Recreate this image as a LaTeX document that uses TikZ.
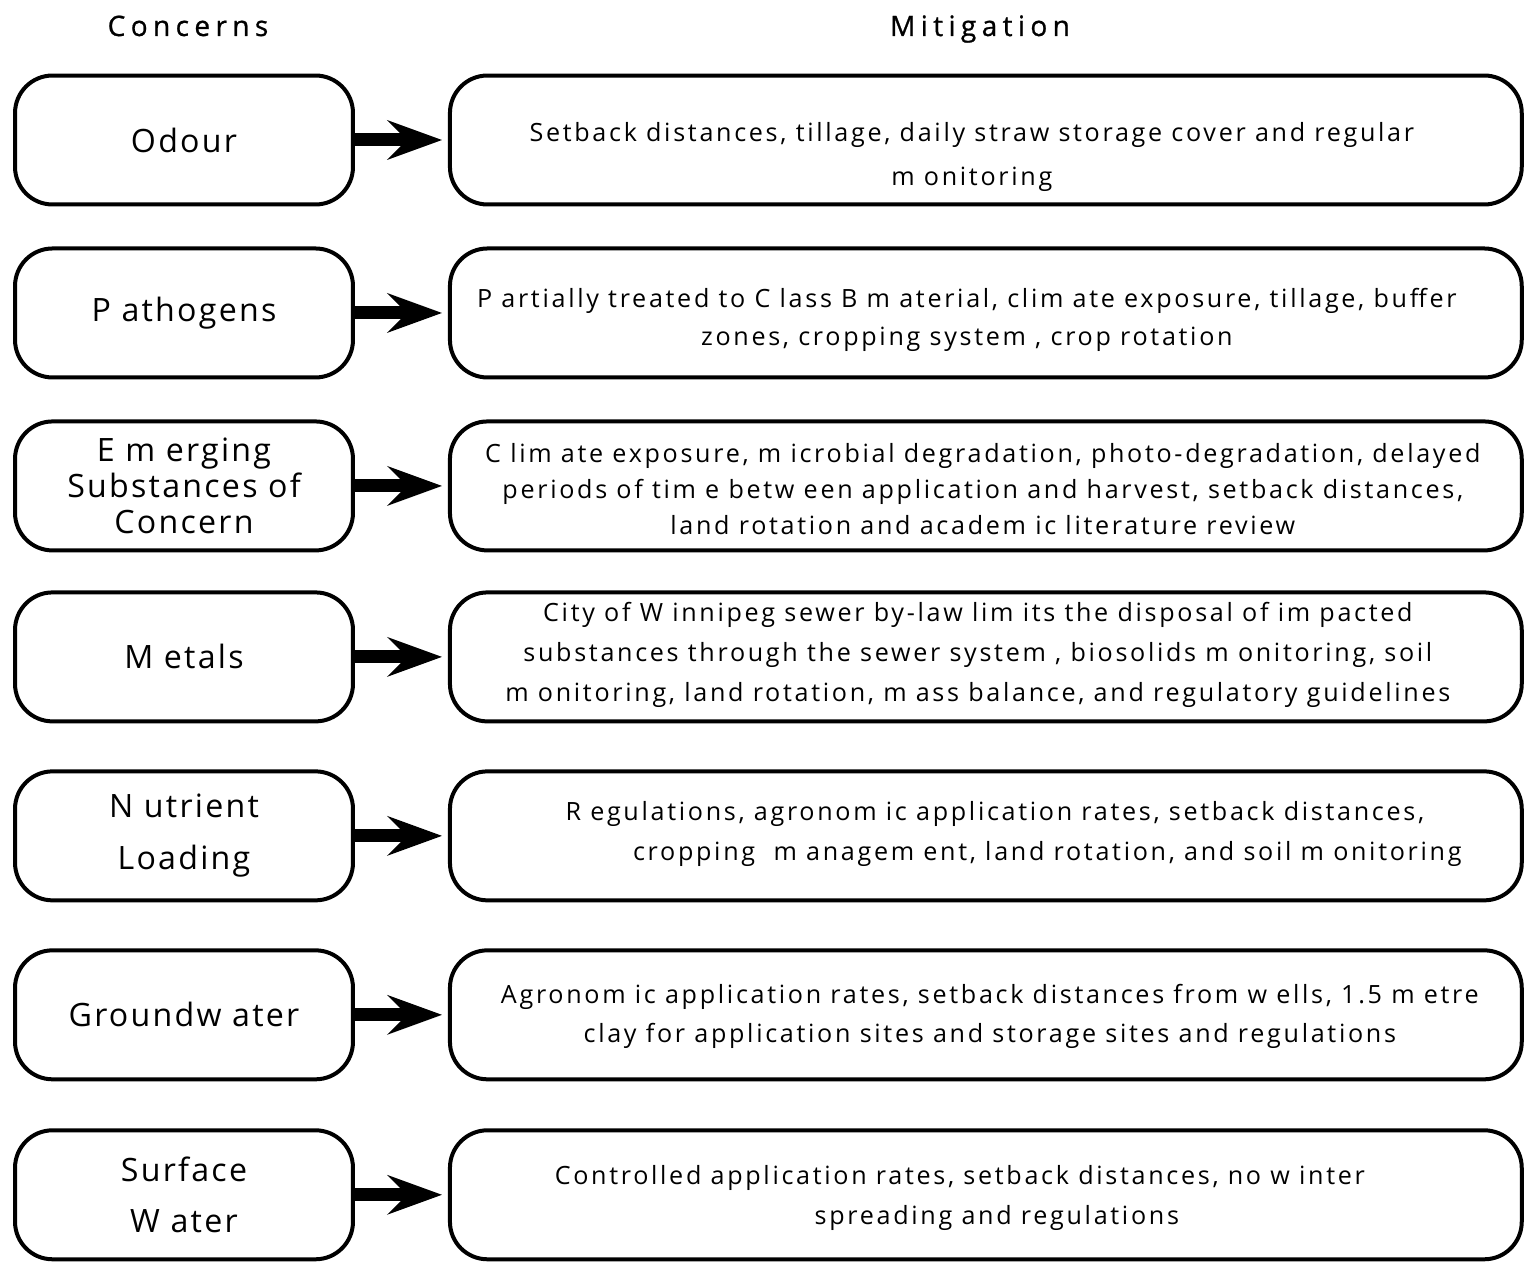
\documentclass[tikz,border=0pt]{standalone}
\usepackage{fontspec}
\setmainfont{Open Sans}[LetterSpace=10.7]
\newfontfamily\concernfont{Open Sans}[LetterSpace=7]
\newfontfamily\headingfont{Open Sans}[LetterSpace=19,FakeBold=0.8]
\usetikzlibrary{positioning}
\usetikzlibrary{arrows.meta}

\begin{document}
\begin{tikzpicture}[x=0.02cm,y=-0.02cm]
\tikzset{basic/.style={draw,line width=0.08cm,rounded corners=0.75cm,align=center,inner sep=0pt,minimum height=2.58cm}}
\tikzset{concern/.style={basic,minimum width=6.76cm,font=\concernfont\fontsize{18.3}{20.4}\selectfont}}
\tikzset{mitig/.style={basic,minimum width=21.44cm}}
\tikzset{mtext/.style={align=center,inner sep=0pt,font=\fontsize{14.3}{22}\selectfont}}
\tikzset{heading/.style={anchor=base,font=\headingfont\fontsize{16}{19}\selectfont}}
\tikzset{link/.style={line width=0.26cm,-{Stealth[length=1.1cm,width=0.8cm,inset=0.4cm,line width=0pt]},shorten >=0.12cm}}
\useasboundingbox (0,0) rectangle (1527,1263);
        \node[heading] (concerns) at (188,36) {Concerns};
        \node[heading] (mitigation) at (980,36) {Mitigation};
        % concerns column
        \node[concern] (odour) at (184,140) {\raisebox{-5pt}{Odour}};
        \node[concern,below=0.80cm of odour] (pathogens) {\raisebox{-4pt}{P athogens}};
        \node[concern,below=0.80cm of pathogens] (emerging) {E m erging\\Substances of\\Concern};
        \node[concern,below=0.76cm of emerging] (metals) {M etals};
        \node[concern,below=0.92cm of metals] (nutrient) {N utrient\\[9pt]Loading};
        \node[concern,below=0.92cm of nutrient] (ground) {Groundw ater};
        \node[concern,below=0.94cm of ground] (surface) {Surface\\[9pt]W ater};
        % mitigation column
        \foreach \c in {odour,pathogens,emerging,metals,nutrient,ground,surface}
            \node[mitig,right=1.86cm of \c] (\c m) {};
        \node[mtext] (odourt) at ([shift={(-14,17)}]odourm.center)
        {Setback distances, tillage, daily straw storage cover and regular\\[3.5pt]m onitoring};
        \node[mtext] (pathogenst) at ([shift={(-19,7)}]pathogensm.center)
        {P artially treated to C lass B m aterial, clim ate exposure, tillage, buffer\\zones, cropping system , crop rotation};
        \node[mtext,font=\fontsize{14.3}{20.4}\selectfont] (emergingt) at ([shift={(-3,3)}]emergingm.center)
        {C lim ate exposure, m icrobial degradation, photo-degradation, delayed\\periods of tim e betw een application and harvest, setback distances,\\land rotation and academ ic literature review};
        \node[mtext,font=\fontsize{14.3}{22.7}\selectfont] (metalst) at ([shift={(-8,-2)}]metalsm.center)
        {City of W innipeg sewer by-law lim its the disposal of im pacted\\substances through the sewer system , biosolids m onitoring, soil\\m onitoring, land rotation, m ass balance, and regulatory guidelines};
        \node[mtext,font=\fontsize{14.3}{22.7}\selectfont] (nutrientt) at ([shift={(9,-2)}]nutrientm.center)
        {R egulations, agronom ic application rates, setback distances,\\\hspace*{2.1cm}cropping~ m anagem ent, land rotation, and soil m onitoring};
        \node[mtext] (groundt) at ([shift={(4,1.5)}]groundm.center)
        {Agronom ic application rates, setback distances from w ells, 1.5 m etre\\clay for application sites and storage sites and regulations};
        \node[mtext,font=\fontsize{14.3}{22.7}\selectfont] (surfacet) at ([shift={(-26,3)}]surfacem.center)
        {Controlled application rates, setback distances, no w inter\\\hspace*{1.48cm}spreading and regulations};
        % arrows
        \foreach \c in {odour,pathogens,emerging,metals,nutrient,ground,surface}
            \draw[link] (\c) -- (\c m);
\end{tikzpicture}
\end{document}
